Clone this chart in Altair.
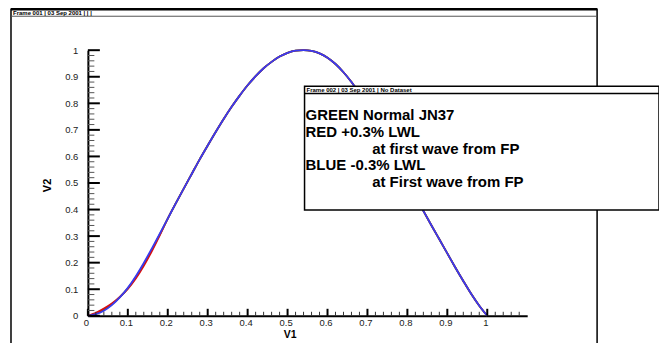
import altair as alt
import pandas as pd

# ---------------- data ----------------
X_VALUES = [0.00, 0.02, 0.04, 0.06, 0.08, 0.10, 0.12, 0.14, 0.16, 0.18,
            0.20, 0.22, 0.24, 0.26, 0.28, 0.30, 0.32, 0.34, 0.36, 0.38,
            0.40, 0.42, 0.44, 0.46, 0.48, 0.50, 0.52, 0.54, 0.56, 0.58,
            0.60, 0.62, 0.64, 0.66, 0.68, 0.70, 0.72, 0.74, 0.76, 0.78,
            0.80, 0.82, 0.84, 0.86, 0.88, 0.90, 0.92, 0.94, 0.96, 0.98, 1.00]

BLUE_Y = [0.000, 0.006, 0.019, 0.040, 0.069, 0.105, 0.149, 0.199, 0.253, 0.309,
          0.366, 0.423, 0.479, 0.534, 0.589, 0.641, 0.692, 0.741, 0.787, 0.829,
          0.868, 0.902, 0.932, 0.956, 0.976, 0.990, 0.998, 1.000, 0.997, 0.988,
          0.972, 0.948, 0.917, 0.880, 0.837, 0.788, 0.735, 0.679, 0.622, 0.564,
          0.507, 0.450, 0.395, 0.341, 0.288, 0.235, 0.182, 0.131, 0.082, 0.038, 0.000]

RED_Y = [0.000, 0.011, 0.027, 0.046, 0.071, 0.101, 0.140, 0.188, 0.243, 0.303,
         0.366, 0.423, 0.479, 0.534, 0.589, 0.641, 0.692, 0.741, 0.787, 0.829,
         0.868, 0.902, 0.932, 0.956, 0.976, 0.990, 0.998, 1.000, 0.997, 0.988,
         0.972, 0.948, 0.917, 0.880, 0.837, 0.788, 0.735, 0.679, 0.622, 0.564,
         0.507, 0.450, 0.395, 0.341, 0.288, 0.235, 0.182, 0.131, 0.082, 0.038, 0.000]

GREEN_Y = [0.000, 0.008, 0.023, 0.043, 0.070, 0.103, 0.145, 0.194, 0.248, 0.306,
           0.366, 0.423, 0.479, 0.534, 0.589, 0.641, 0.692, 0.741, 0.787, 0.829,
           0.868, 0.902, 0.932, 0.956, 0.976, 0.990, 0.998, 1.000, 0.997, 0.988,
           0.972, 0.948, 0.917, 0.880, 0.837, 0.788, 0.735, 0.679, 0.622, 0.564,
           0.507, 0.450, 0.395, 0.341, 0.288, 0.235, 0.182, 0.131, 0.082, 0.038, 0.000]

X_MAJOR_TICKS = [0.0, 0.1, 0.2, 0.3, 0.4, 0.5, 0.6, 0.7, 0.8, 0.9, 1.0]
Y_MAJOR_TICKS = [0.0, 0.1, 0.2, 0.3, 0.4, 0.5, 0.6, 0.7, 0.8, 0.9, 1.0]
X_MINOR_TICKS = [round(i * 0.02, 2) for i in range(1, 55) if i % 5 != 0]
Y_MINOR_TICKS = [round(i * 0.02, 2) for i in range(1, 50) if i % 5 != 0]

X_TITLE = "V1"
Y_TITLE = "V2"
FRAME1_HEADER = "Frame 001 | 03 Sep 2001 | | |"
FRAME2_HEADER = "Frame 002 | 03 Sep 2001 | No Dataset"
LEGEND_LINES = ["GREEN  Normal JN37", "RED   +0.3% LWL", "at first wave from FP",
                "BLUE -0.3% LWL", "at First wave from FP"]
LEGEND_INDENT = [False, False, True, False, True]

# ---------------- layout ----------------
W, H = 440, 266
FONT = "Liberation Sans"

xs = alt.Scale(domain=[0, 1.1], nice=False, zero=False)
ys = alt.Scale(domain=[0, 1], nice=False, zero=False)

x_axis = alt.Axis(values=X_MAJOR_TICKS, format=".1~f", ticks=False, grid=False,
                  domainColor="black", domainWidth=2, labelFont=FONT, labelFontSize=9.5,
                  labelColor="#222222", labelPadding=2, labelOffset=-2, labelFlush=False,
                  labelOverlap=False, title=X_TITLE, titleFont=FONT, titleFontSize=10.5,
                  titleFontWeight="bold", titleX=202, titleY=14, titleAlign="center",
                  titleBaseline="top", titleColor="black")
y_axis = alt.Axis(values=Y_MAJOR_TICKS, format=".1~f", ticks=False, grid=False,
                  domainColor="black", domainWidth=2, labelFont=FONT, labelFontSize=9.5,
                  labelColor="#222222", labelPadding=10, labelFlush=False,
                  labelOverlap=False, title=Y_TITLE, titleFont=FONT, titleFontSize=11,
                  titleFontWeight="bold", titleX=-40, titleY=135, titleAngle=270,
                  titleAlign="center", titleBaseline="middle", titleColor="black")


def X():
    return alt.X("x:Q", scale=xs, axis=x_axis)


def Y():
    return alt.Y("y:Q", scale=ys, axis=y_axis)


one = pd.DataFrame({"a": [0]})

layers = []


def curve(ys_list, color):
    df = pd.DataFrame({"x": X_VALUES, "y": ys_list})
    return alt.Chart(df).mark_line(color=color, strokeWidth=1.8, interpolate="monotone").encode(
        x=X(), y=Y())


layers.append(curve(GREEN_Y, "#00a000"))
layers.append(curve(RED_Y, "#d81010"))
layers.append(curve(BLUE_Y, "#3a3af0"))

# axis ticks pointing inward
layers.append(alt.Chart(pd.DataFrame({"x": X_MAJOR_TICKS})).mark_rule(color="black", strokeWidth=2).encode(
    x=X(), y=alt.value(H), y2=alt.value(H - 7)))
layers.append(alt.Chart(pd.DataFrame({"x": X_MINOR_TICKS})).mark_rule(color="#333333", strokeWidth=1).encode(
    x=X(), y=alt.value(H), y2=alt.value(H - 4)))
layers.append(alt.Chart(pd.DataFrame({"y": Y_MAJOR_TICKS})).mark_rule(color="black", strokeWidth=2).encode(
    y=Y(), x=alt.value(0), x2=alt.value(12)))
layers.append(alt.Chart(pd.DataFrame({"y": Y_MINOR_TICKS})).mark_rule(color="#555555", strokeWidth=1).encode(
    y=Y(), x=alt.value(0), x2=alt.value(6.5)))

# outer frame
layers.append(alt.Chart(one).mark_rect(filled=False, stroke="black", strokeWidth=1.5).encode(
    x=alt.value(-77), x2=alt.value(510), y=alt.value(-41), y2=alt.value(320)))
layers.append(alt.Chart(one).mark_rule(color="black", strokeWidth=2.5).encode(
    x=alt.value(-77), x2=alt.value(510), y=alt.value(-41)))
layers.append(alt.Chart(one).mark_rule(color="#555555", strokeWidth=1).encode(
    x=alt.value(-77), x2=alt.value(510), y=alt.value(-34)))
layers.append(alt.Chart(pd.DataFrame({"t": [FRAME1_HEADER]})).mark_text(
    align="left", baseline="alphabetic", font=FONT, fontWeight="bold", fontSize=6, color="black").encode(
    x=alt.value(-75), y=alt.value(-35.5), text="t:N"))

# inner frame (text box)
layers.append(alt.Chart(one).mark_rect(fill="white", stroke="black", strokeWidth=1.5).encode(
    x=alt.value(217), x2=alt.value(572), y=alt.value(36), y2=alt.value(160)))
layers.append(alt.Chart(one).mark_rule(color="black", strokeWidth=1.5).encode(
    x=alt.value(217), x2=alt.value(572), y=alt.value(43.3)))
layers.append(alt.Chart(pd.DataFrame({"t": [FRAME2_HEADER]})).mark_text(
    align="left", baseline="alphabetic", font=FONT, fontWeight="bold", fontSize=6, color="black").encode(
    x=alt.value(219), y=alt.value(42), text="t:N"))

for i, (line, indent) in enumerate(zip(LEGEND_LINES, LEGEND_INDENT)):
    layers.append(alt.Chart(pd.DataFrame({"t": [line]})).mark_text(
        align="left", baseline="alphabetic", font=FONT, fontWeight="bold", fontSize=15, color="black").encode(
        x=alt.value(284.7 if indent else 218), y=alt.value(70 + i * 16.8), text="t:N"))

chart = alt.layer(*layers).properties(
    width=W, height=H,
    autosize=alt.AutoSizeParams(type="none"),
    padding={"left": 80, "top": 42, "right": 132, "bottom": 27},
    background="white",
).configure_view(stroke="transparent")

chart.save("out.html", embed_options={"renderer": "svg", "actions": False})
